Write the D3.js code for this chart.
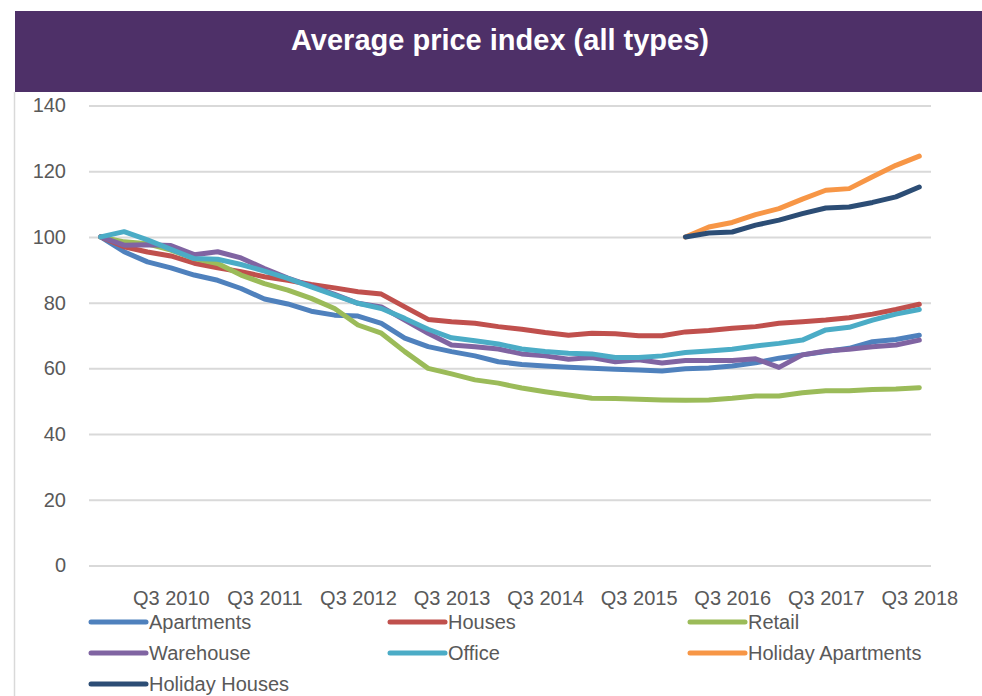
<!DOCTYPE html>
<html>
<head>
<meta charset="utf-8">
<script src="https://cdn.jsdelivr.net/npm/d3@7"></script>
<style>
  body { margin: 0; background: #fff; }
  svg { display: block; font-family: "Liberation Sans", Arial, sans-serif; }
</style>
</head>
<body>
<div id="chart"></div>
<script>
const quarters = [
  'Q4 2009',
  'Q1 2010', 'Q2 2010', 'Q3 2010', 'Q4 2010',
  'Q1 2011', 'Q2 2011', 'Q3 2011', 'Q4 2011',
  'Q1 2012', 'Q2 2012', 'Q3 2012', 'Q4 2012',
  'Q1 2013', 'Q2 2013', 'Q3 2013', 'Q4 2013',
  'Q1 2014', 'Q2 2014', 'Q3 2014', 'Q4 2014',
  'Q1 2015', 'Q2 2015', 'Q3 2015', 'Q4 2015',
  'Q1 2016', 'Q2 2016', 'Q3 2016', 'Q4 2016',
  'Q1 2017', 'Q2 2017', 'Q3 2017', 'Q4 2017',
  'Q1 2018', 'Q2 2018', 'Q3 2018'
];
const xTickLabels = ['Q3 2010', 'Q3 2011', 'Q3 2012', 'Q3 2013', 'Q3 2014', 'Q3 2015', 'Q3 2016', 'Q3 2017', 'Q3 2018'];
const yTicks = [0, 20, 40, 60, 80, 100, 120, 140];

const apartments = [100, 95.5, 92.4, 90.6, 88.4, 86.8, 84.3, 81.1, 79.6, 77.4, 76.2, 75.9, 73.7, 69.2, 66.6, 65.1, 63.8, 62.0,
  61.2, 60.7, 60.3, 60.0, 59.7, 59.5, 59.2, 59.9, 60.1, 60.7, 61.7, 63.1, 64.1, 65.1, 66.1, 68.1, 68.8, 70.1];
const houses = [100, 97.0, 95.4, 94.2, 92.0, 90.6, 89.4, 87.9, 86.8, 85.5, 84.5, 83.3, 82.6, 78.7, 74.9, 74.2, 73.7, 72.7,
  71.9, 70.9, 70.1, 70.7, 70.5, 69.9, 69.9, 71.1, 71.5, 72.2, 72.7, 73.7, 74.2, 74.7, 75.4, 76.5, 77.9, 79.5];
const retail = [100, 98.5, 97.9, 96.0, 93.4, 91.9, 88.4, 85.8, 83.8, 81.3, 78.2, 73.2, 70.7, 65.1, 60.0, 58.3, 56.5, 55.5,
  54.0, 52.9, 51.9, 50.9, 50.8, 50.6, 50.4, 50.3, 50.4, 50.9, 51.6, 51.6, 52.6, 53.2, 53.2, 53.6, 53.7, 54.1];
const warehouse = [100, 97.5, 97.6, 97.4, 94.6, 95.5, 93.6, 90.4, 87.5, 85.0, 82.5, 79.8, 78.7, 74.7, 70.7, 67.1, 66.6, 65.9,
  64.4, 63.8, 62.8, 63.3, 62.0, 62.6, 61.6, 62.4, 62.4, 62.4, 62.9, 60.3, 64.1, 65.3, 65.8, 66.6, 67.1, 68.6];
const office = [100, 101.6, 99.1, 96.2, 93.4, 93.2, 91.6, 89.6, 87.4, 84.8, 82.3, 79.8, 78.2, 75.2, 71.9, 69.3, 68.4, 67.4,
  65.9, 65.1, 64.6, 64.4, 63.3, 63.3, 63.8, 64.8, 65.3, 65.8, 66.8, 67.6, 68.6, 71.7, 72.5, 74.7, 76.5, 77.9];
// holiday series only start in Q1 2016
const holidayStart = 'Q1 2016';
const holidayApartments = [100, 103.0, 104.4, 106.8, 108.6, 111.5, 114.2, 114.7, 118.3, 121.8, 124.6];
const holidayHouses = [100, 101.2, 101.5, 103.6, 105.1, 107.1, 108.8, 109.1, 110.5, 112.2, 115.2];

const seriesNames = ['Apartments', 'Houses', 'Retail', 'Warehouse', 'Office', 'Holiday Apartments', 'Holiday Houses'];
const seriesColors = ['#4F81BD', '#C0504D', '#9BBB59', '#8064A2', '#4BACC6', '#F79646', '#2C4D75'];

class LineChart {

  constructor(_config, _data) {
    this.config = {
      parentElement: _config.parentElement,
      containerWidth: 982,
      containerHeight: 696,
      plot: {left: 89, right: 931, top: 105.5, bottom: 565.5},
      title: _config.title,
      lineWidth: 5
    }
    this.data = _data;
    this.initVis();
  }

  initVis() {
    let vis = this;
    const p = vis.config.plot;

    vis.svg = d3.select(vis.config.parentElement).append('svg')
        .attr('width', vis.config.containerWidth)
        .attr('height', vis.config.containerHeight);

    // purple header band and faint left border
    vis.svg.append('rect')
        .attr('x', 15).attr('y', 11)
        .attr('width', vis.config.containerWidth - 15).attr('height', 81)
        .attr('fill', '#4E3068');
    vis.svg.append('line')
        .attr('x1', 14.5).attr('x2', 14.5)
        .attr('y1', 92).attr('y2', vis.config.containerHeight)
        .attr('stroke', '#D9D9D9').attr('stroke-width', 1.5);

    vis.svg.append('text')
        .attr('x', 500).attr('y', 50)
        .attr('text-anchor', 'middle')
        .attr('fill', '#fff')
        .attr('font-size', 29)
        .attr('font-weight', 'bold')
        .text(vis.config.title);

    vis.xScale = d3.scalePoint()
        .domain(quarters)
        .range([p.left, p.right])
        .padding(0.5);

    vis.yScale = d3.scaleLinear()
        .domain([0, 140])
        .range([p.bottom, p.top]);

    // y axis doubles as the gridlines
    vis.yAxisG = vis.svg.append('g')
        .attr('transform', `translate(${p.left},0)`)
        .call(d3.axisLeft(vis.yScale)
            .tickValues(yTicks)
            .tickSize(-(p.right - p.left))
            .tickPadding(23));
    vis.yAxisG.select('.domain').remove();
    vis.yAxisG.selectAll('.tick line').attr('stroke', '#D9D9D9').attr('stroke-width', 2);
    vis.yAxisG.selectAll('.tick text')
        .attr('fill', '#595959')
        .attr('font-size', 20)
        .attr('font-family', '"Liberation Sans", Arial, sans-serif');

    vis.xAxisG = vis.svg.append('g')
        .attr('transform', `translate(0,${p.bottom})`)
        .call(d3.axisBottom(vis.xScale)
            .tickValues(xTickLabels)
            .tickSize(0)
            .tickPadding(25));
    vis.xAxisG.select('.domain').remove();
    vis.xAxisG.selectAll('.tick text')
        .attr('fill', '#595959')
        .attr('font-size', 20)
        .attr('font-family', '"Liberation Sans", Arial, sans-serif');

    vis.line = d3.line()
        .x(d => vis.xScale(d.q))
        .y(d => vis.yScale(d.v));

    vis.renderVis();
  }

  renderVis() {
    let vis = this;

    vis.svg.append('g').selectAll('path')
        .data(vis.data)
      .join('path')
        .attr('d', d => vis.line(d.values))
        .attr('fill', 'none')
        .attr('stroke', d => d.color)
        .attr('stroke-width', vis.config.lineWidth)
        .attr('stroke-linejoin', 'round')
        .attr('stroke-linecap', 'round');

    // legend, three columns
    const colX = [91, 390, 690];
    const rowY = [622, 653, 684];
    const legend = vis.svg.append('g').selectAll('g')
        .data(vis.data)
      .join('g')
        .attr('transform', (d, i) => `translate(${colX[i % 3]},${rowY[Math.floor(i / 3)]})`);
    legend.append('line')
        .attr('x1', 0).attr('x2', 55)
        .attr('stroke', d => d.color)
        .attr('stroke-width', vis.config.lineWidth)
        .attr('stroke-linecap', 'round');
    legend.append('text')
        .attr('x', 58).attr('dy', '0.35em')
        .attr('fill', '#595959')
        .attr('font-size', 20)
        .text(d => d.name);
  }
}

const fullSeries = [apartments, houses, retail, warehouse, office];
const startIdx = quarters.indexOf(holidayStart);
const holidaySeries = [holidayApartments, holidayHouses];

const data = seriesNames.map((name, i) => {
  let values;
  if (i < fullSeries.length) {
    values = fullSeries[i].map((v, j) => ({q: quarters[j], v: v}));
  } else {
    values = holidaySeries[i - fullSeries.length].map((v, j) => ({q: quarters[startIdx + j], v: v}));
  }
  return {name: name, color: seriesColors[i], values: values};
});

new LineChart({parentElement: '#chart', title: 'Average price index (all types)'}, data);
</script>
</body>
</html>
